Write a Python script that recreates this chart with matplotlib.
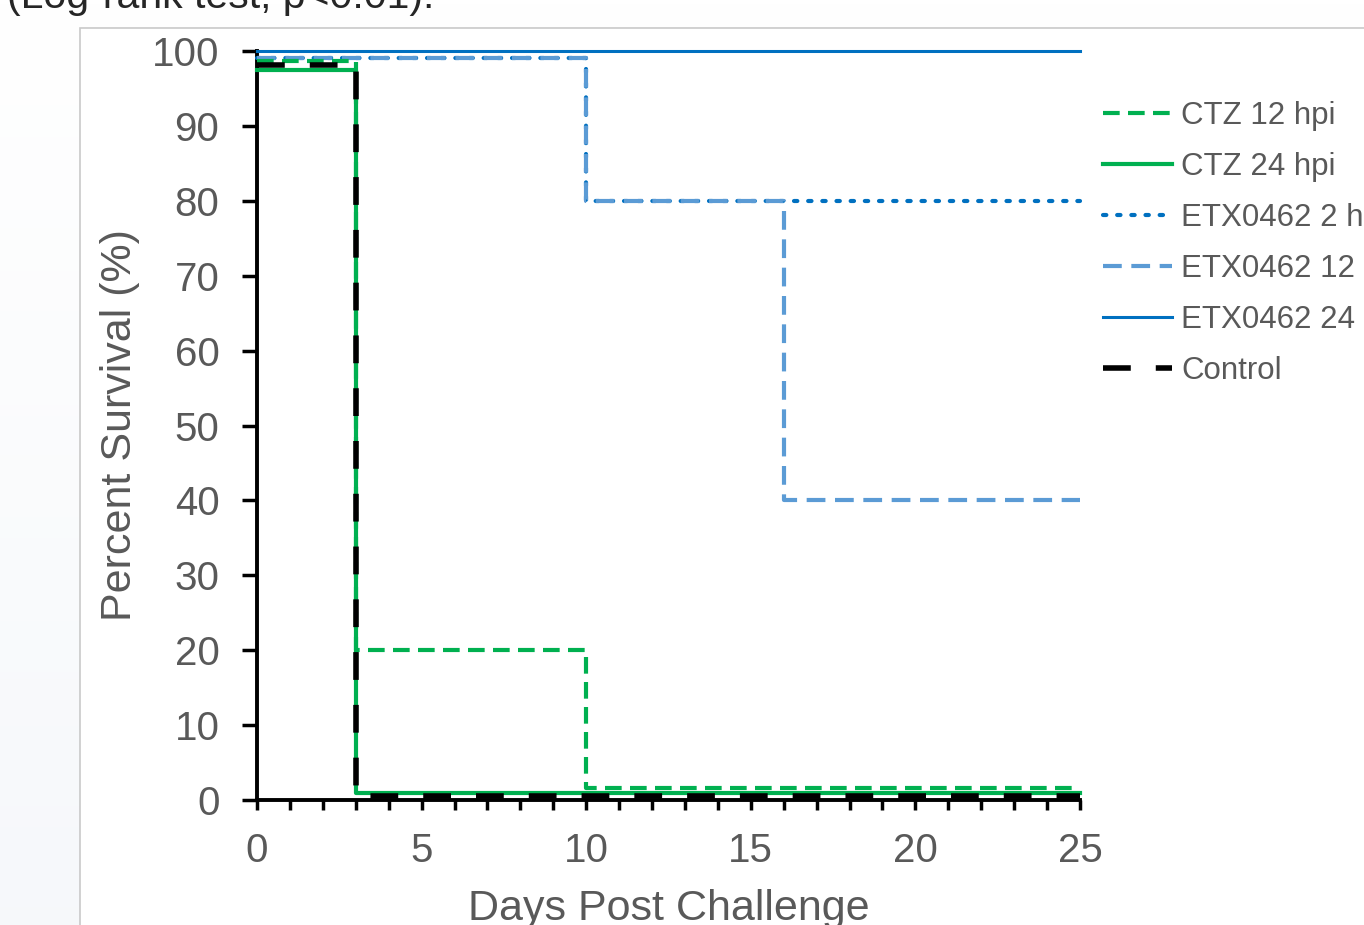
import numpy as np
import matplotlib
matplotlib.use('Agg')
import matplotlib.pyplot as plt
from matplotlib.patches import Rectangle

plt.rcParams['font.family'] = ['Liberation Sans', 'DejaVu Sans']

# step-curve data (days, percent survival)
ctz12_t = [0, 3, 10, 25]
ctz12_s = [98.7, 20, 1.6, 1.6]
ctz24_t = [0, 3, 25]
ctz24_s = [97.5, 1.0, 1.0]
etx2_t = [0, 10, 25]
etx2_s = [99.1, 80, 80]
etx12_t = [0, 10, 16, 25]
etx12_s = [99.1, 80, 40, 40]
etx24_t = [0, 25]
etx24_s = [100, 100]
ctrl_t = [0, 3, 25]
ctrl_s = [98.1, 0.5, 0.5]

labels = ['CTZ 12 hpi', 'CTZ 24 hpi', 'ETX0462 2 hpi', 'ETX0462 12 hpi',
          'ETX0462 24 hpi', 'Control']

W, H = 1364, 925
fig = plt.figure(figsize=(W / 100, H / 100), dpi=100)

# light gradient background behind the white panel
bg = fig.add_axes([0, 0, 1, 1], zorder=-10)
grad = np.linspace(0, 1, 256).reshape(-1, 1)
c_top = np.array([1.0, 1.0, 1.0])
c_bot = np.array([0.965, 0.973, 0.984])
img = c_top + grad[..., None] * (c_bot - c_top)
bg.imshow(img, aspect='auto', extent=[0, 1, 0, 1])
bg.set_axis_off()

fig.patches.append(Rectangle((80 / W, -0.05), 1.1, 1 - 28 / H + 0.05,
                             transform=fig.transFigure, facecolor='white',
                             edgecolor='#c9c9c9', linewidth=1.2, zorder=-5))

fig.text(434 / W, 1 - 8 / H, '(Log-rank test, p<0.01).', ha='right',
         va='baseline', fontsize=29.5, color='#262626')

ax = fig.add_axes([257 / W, 1 - 800 / H, (1080 - 257) / W, (800 - 51) / H])
ax.set_facecolor('none')

green = '#00b050'
lblue = '#5b9bd5'
blue = '#0070c0'

ax.step(etx24_t, etx24_s, where='post', color=blue, lw=2.2, label=labels[4], clip_on=False, zorder=3)
ax.step(etx2_t, etx2_s, where='post', color=blue, lw=3, linestyle=(0, (0.8, 2.6)),
        dash_capstyle='round', label=labels[2], clip_on=False, zorder=4)
ax.step(etx12_t, etx12_s, where='post', color=lblue, lw=3, linestyle=(0, (4.5, 2.3)),
        label=labels[3], clip_on=False, zorder=4)
ax.step(ctz24_t, ctz24_s, where='post', color=green, lw=3, label=labels[1], clip_on=False, zorder=4)
ax.step(ctz12_t, ctz12_s, where='post', color=green, lw=3, linestyle=(0, (4, 2)),
        label=labels[0], clip_on=False, zorder=5)
ax.step(ctrl_t, ctrl_s, where='post', color='black', lw=4, linestyle=(0, (5, 4.5)),
        label=labels[5], clip_on=False, zorder=6)

ax.set_xlim(0, 25)
ax.set_ylim(0, 100)
ax.set_xticks(range(0, 26, 5))
ax.set_xticks(range(0, 26), minor=True)
ax.set_yticks(range(0, 101, 10))
for s in ['top', 'right']:
    ax.spines[s].set_visible(False)
for s in ['left', 'bottom']:
    ax.spines[s].set_linewidth(2.8)
    ax.spines[s].set_color('black')
ax.tick_params(axis='x', which='both', direction='out', length=7, width=2.5,
               pad=16, labelsize=29, labelcolor='#595959')
ax.tick_params(axis='y', direction='out', length=11, width=2.5,
               pad=16, labelsize=29, labelcolor='#595959')
ax.set_xlabel('Days Post Challenge', fontsize=31, color='#595959', labelpad=14)
ax.set_ylabel('Percent Survival (%)', fontsize=31, color='#595959', labelpad=9)

handles, labs = ax.get_legend_handles_labels()
hmap = dict(zip(labs, handles))
leg = fig.legend([hmap[l] for l in labels], labels, loc='upper left',
                 bbox_to_anchor=(1103 / W, 1 - 101 / H), frameon=False,
                 fontsize=22.5, handlelength=2.2, handletextpad=0.3,
                 labelspacing=0.67, borderpad=0, borderaxespad=0)
for t in leg.get_texts():
    t.set_color('#595959')

fig.savefig('out.png', dpi=100)
